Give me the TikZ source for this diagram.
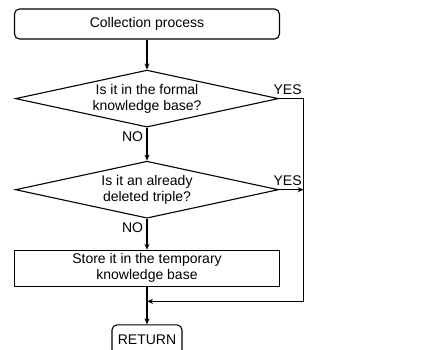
\documentclass[tikz,border=0pt]{standalone}
\usepackage{fontspec}
\setmainfont{Liberation Sans}
\usetikzlibrary{positioning,shapes.geometric,arrows.meta}

\begin{document}
\begin{tikzpicture}[x=1pt, y=-1pt, node distance=31pt, line width=1.1pt,
        >={Stealth[length=6pt,width=5pt]},
        every node/.style={font=\fontsize{14}{16}\selectfont},
        term/.style = {draw, rectangle, rounded corners=5pt, minimum height=30pt, inner sep=0pt},
        proc/.style = {draw, rectangle, minimum width=265pt, minimum height=36pt, inner sep=0pt, align=center},
        dec/.style = {draw, diamond, aspect=4.6, minimum width=263pt, minimum height=57pt, inner sep=0pt, align=center}]
        \useasboundingbox (0,0) rectangle (425,349);

        \node[term, minimum width=265pt](col) at (147,24){Collection process};
        \node[dec](d1)[below=30pt of col]{Is it in the formal\\knowledge base?};
        \node[dec](d2)[below=33pt of d1]{Is it an already\\deleted triple?};
        \node[proc](store)[below=31pt of d2]{Store it in the temporary\\knowledge base};
        \node[term, minimum width=70pt](ret)[below=37.5pt of store]{RETURN};

        \coordinate[right=24.5pt of d1.east](c1);
        \coordinate(c2) at (c1 |- d2.east);
        \coordinate[below=14.5pt of store.south](j);

        \draw[->] (col.south -| d1.north) -- (d1);
        \draw[->] (d1) -- node[pos=0, below left]{NO} (d2);
        \draw[->] (d2) -- node[pos=0, below left]{NO} (store);
        \draw[->] (store) -- (ret);
        \draw[->] (d1.east) -- node[pos=0.35, above]{YES} (c1) |- (j);
        \draw[->] (d2.east) -- node[pos=0.35, above]{YES} (c2);
    \end{tikzpicture}
\end{document}
